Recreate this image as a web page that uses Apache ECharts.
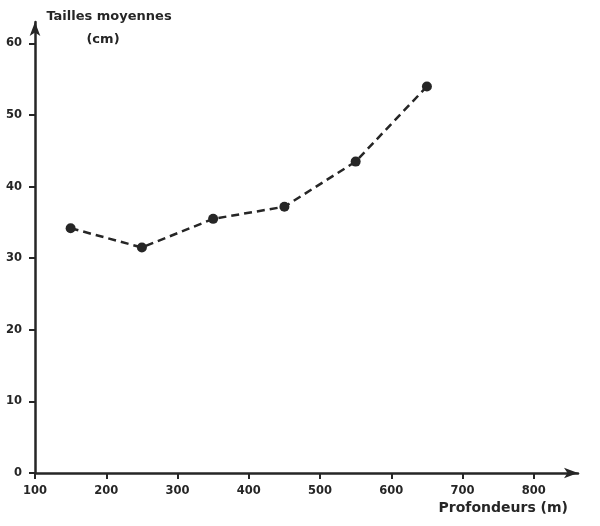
<!DOCTYPE html>
<html><head><meta charset="utf-8">
<script src="https://cdn.jsdelivr.net/npm/echarts@6/dist/echarts.min.js"></script>
<style>html,body{margin:0;padding:0;background:#fff}#c{width:600px;height:526px}</style>
</head><body><div id="c"></div>
<script>
const depths = [150, 250, 350, 450, 550, 650];
const sizes = [34.2, 31.5, 35.5, 37.2, 43.5, 54.0];
const xTicks = [100, 200, 300, 400, 500, 600, 700, 800];
const yTicks = [0, 10, 20, 30, 40, 50, 60];
const yNameLines = ['Tailles moyennes', '(cm)'];
const xName = 'Profondeurs (m)';

const ink = '#262626';
const font = '"DejaVu Sans", sans-serif';
const chart = echarts.init(document.getElementById('c'));
chart.setOption({
  backgroundColor: '#fff',
  animation: false,
  grid: {left: 35, right: 22, top: 22, bottom: 53, containLabel: false, outerBoundsMode: 'none'},
  graphic: [
    {type: 'text', x: 109, y: 17, style: {text: yNameLines[0], fill: ink, font: 'bold 13px ' + font, align: 'center', verticalAlign: 'middle'}},
    {type: 'text', x: 103, y: 40, style: {text: yNameLines[1], fill: ink, font: 'bold 13px ' + font, align: 'center', verticalAlign: 'middle'}}
  ],
  xAxis: {
    type: 'value', min: 100, max: 862,
    splitLine: {show: false},
    axisLine: {lineStyle: {color: ink, width: 2.5}, symbol: ['none', 'arrow'], symbolSize: [8, 14]},
    axisTick: {show: true, customValues: xTicks, length: 6, lineStyle: {color: ink, width: 2}},
    axisLabel: {customValues: xTicks, color: ink, fontFamily: font, fontWeight: 'bold', fontSize: 11.5, margin: 12},
    name: xName, nameLocation: 'end', nameGap: 0,
    nameTextStyle: {color: ink, fontFamily: font, fontWeight: 'bold', fontSize: 14, align: 'right', verticalAlign: 'top', padding: [28, 10, 0, 0]}
  },
  yAxis: {
    type: 'value', min: 0, max: 63,
    splitLine: {show: false},
    axisLine: {lineStyle: {color: ink, width: 2.5}, symbol: ['none', 'arrow'], symbolSize: [8, 14]},
    axisTick: {show: true, customValues: yTicks, length: 6, lineStyle: {color: ink, width: 2}},
    axisLabel: {customValues: yTicks, color: ink, fontFamily: font, fontWeight: 'bold', fontSize: 11.5, margin: 13}
  },
  series: [{
    type: 'line',
    data: depths.map((d, i) => [d, sizes[i]]),
    symbol: 'circle', symbolSize: 10,
    itemStyle: {color: ink},
    lineStyle: {color: ink, width: 2.5, type: [8, 5]}
  }]
});
</script></body></html>
